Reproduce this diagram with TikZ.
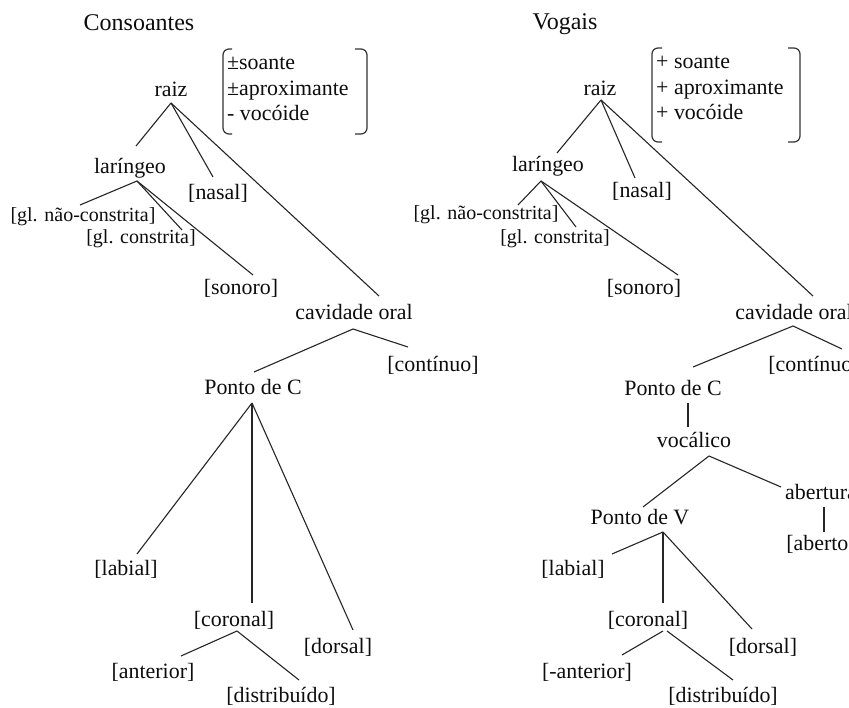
\documentclass[tikz,border=0pt]{standalone}
\usepackage{fontspec}
\setmainfont{Liberation Serif}
\usetikzlibrary{calc}
\begin{document}
\begin{tikzpicture}[x=1pt,y=-1pt,
  lbl/.style={inner sep=0pt,text height=16pt,text depth=2pt,text=black!95,font=\fontsize{21.9}{26}\selectfont},
  sml/.style={lbl,font=\fontsize{20}{24}\selectfont},
  ttl/.style={lbl,font=\fontsize{24}{28}\selectfont},
  feat/.style={lbl,anchor=west},
  edge/.style={draw=black!85,line width=1.1pt},
  vedge/.style={edge,line width=1.6pt},
  brk/.style={draw=black!80,line width=1.2pt,rounded corners=6pt}]
\useasboundingbox (0,0) rectangle (849,708);
\clip (0,0) rectangle (849,708);
\fill[white] (0,0) rectangle (849,708);

% ---------------- Consoantes ----------------
\node[ttl] (cT) at (139,24) {Consoantes};
\node[lbl] (raizL) at (171,90) {raiz};
\node[lbl] (larL) at (130,167) {laríngeo};
\node[lbl] (nasL) at (218,193) {[nasal]};
\node[sml] (gnL) at (83,215) {[gl. não-constrita]};
\node[sml] (gcL) at (141,237) {[gl. constrita]};
\node[lbl] (sonL) at (241,288) {[sonoro]};
\node[lbl] (cavL) at (354,313) {cavidade oral};
\node[lbl] (contL) at (433,365) {[contínuo]};
\node[lbl] (pcL) at (253,388) {Ponto de C};
\node[lbl] (labL) at (126,568) {[labial]};
\node[lbl] (corL) at (234,619) {[coronal]};
\node[lbl] (dorL) at (338,646) {[dorsal]};
\node[lbl] (antL) at (153,671) {[anterior]};
\node[lbl] (disL) at (281,695) {[distribuído]};

\node[feat] (f1L) at (227,63) {±soante};
\node[feat] (f2L) at (227,89) {±aproximante};
\node[feat] (f3L) at (227,114) {- vocóide};
\draw[brk] (232,49) -- (223,49) -- (223,134) -- (232,134);
\draw[brk] (355,49) -- (367,49) -- (367,134) -- (355,134);

\draw[edge] ($(raizL)+(0,13)$) -- ($(larL)+(6,-21)$);
\draw[edge] ($(raizL)+(0,13)$) -- ($(nasL)+(-5,-16)$);
\draw[edge] ($(raizL)+(0,13)$) -- ($(cavL)+(25,-17)$);
\draw[edge] ($(larL)+(7,14)$) -- ($(gnL)+(-3,-10)$);
\draw[edge] ($(larL)+(7,14)$) -- ($(gcL)+(41,-7)$);
\draw[edge] ($(larL)+(7,14)$) -- ($(sonL)+(12,-13)$);
\draw[edge] ($(cavL)+(-1,16)$) -- ($(pcL)+(1,-16)$);
\draw[edge] ($(cavL)+(-1,16)$) -- ($(contL)+(-25,-18)$);
\draw[edge] ($(pcL)+(-1,15)$) -- ($(labL)+(11,-14)$);
\draw[vedge] ($(pcL)+(-1,15)$) -- ($(corL)+(18,-16)$);
\draw[edge] ($(pcL)+(-1,15)$) -- ($(dorL)+(15,-16)$);
\draw[edge] ($(corL)+(3,12)$) -- ($(antL)+(28,-15)$);
\draw[edge] ($(corL)+(3,12)$) -- ($(disL)+(18,-15)$);

% ---------------- Vogais ----------------
\node[ttl] (vT) at (565,23) {Vogais};
\node[lbl] (raizR) at (600,89) {raiz};
\node[lbl] (larR) at (548,165) {laríngeo};
\node[lbl] (nasR) at (642,191) {[nasal]};
\node[sml] (gnR) at (486,213) {[gl. não-constrita]};
\node[sml] (gcR) at (555,237) {[gl. constrita]};
\node[lbl] (sonR) at (644,288) {[sonoro]};
\node[lbl] (cavR) at (794,313) {cavidade oral};
\node[lbl] (contR) at (814,365) {[contínuo]};
\node[lbl] (pcR) at (673,389) {Ponto de C};
\node[lbl] (vocR) at (694,441) {vocálico};
\node[lbl] (pvR) at (640,517) {Ponto de V};
\node[lbl] (abR) at (821,493) {abertura};
\node[lbl] (abtR) at (821,543) {[aberto]};
\node[lbl] (labR) at (573,568) {[labial]};
\node[lbl] (corR) at (648,619) {[coronal]};
\node[lbl] (dorR) at (763,646) {[dorsal]};
\node[lbl] (antR) at (587,671) {[-anterior]};
\node[lbl] (disR) at (723,695) {[distribuído]};

\node[feat] (f1R) at (656,62) {+ soante};
\node[feat] (f2R) at (656,88) {+ aproximante};
\node[feat] (f3R) at (656,113) {+ vocóide};
\draw[brk] (662,48) -- (652,48) -- (652,142) -- (662,142);
\draw[brk] (788,48) -- (800,48) -- (800,142) -- (788,142);

\draw[edge] ($(raizR)+(1,11)$) -- ($(larR)+(9,-12)$);
\draw[edge] ($(raizR)+(1,11)$) -- ($(nasR)+(-7,-13)$);
\draw[edge] ($(raizR)+(1,11)$) -- ($(cavR)+(19,-17)$);
\draw[edge] ($(larR)+(-7,16)$) -- ($(gnR)+(32,-8)$);
\draw[edge] ($(larR)+(-7,16)$) -- ($(gcR)+(21,-10)$);
\draw[edge] ($(larR)+(-7,16)$) -- ($(sonR)+(34,-13)$);
\draw[edge] ($(cavR)+(-1,13)$) -- ($(pcR)+(20,-22)$);
\draw[edge] ($(cavR)+(-1,13)$) -- ($(contR)+(28,-16)$);
\draw[vedge] ($(pcR)+(15,14)$) -- ($(vocR)+(-6,-14)$);
\draw[edge] ($(vocR)+(15,15)$) -- ($(pvR)+(3,-10)$);
\draw[edge] ($(vocR)+(15,15)$) -- ($(abR)+(-40,-6)$);
\draw[vedge] ($(abR)+(3,14)$) -- ($(abtR)+(3,-11)$);
\draw[edge] ($(pvR)+(23,15)$) -- ($(labR)+(39,-14)$);
\draw[vedge] ($(pvR)+(23,15)$) -- ($(corR)+(15,-16)$);
\draw[edge] ($(pvR)+(23,15)$) -- ($(dorR)+(-11,-17)$);
\draw[edge] ($(corR)+(15,12)$) -- ($(antR)+(35,-16)$);
\draw[edge] ($(corR)+(19,12)$) -- ($(disR)+(10,-15)$);
\end{tikzpicture}
\end{document}
